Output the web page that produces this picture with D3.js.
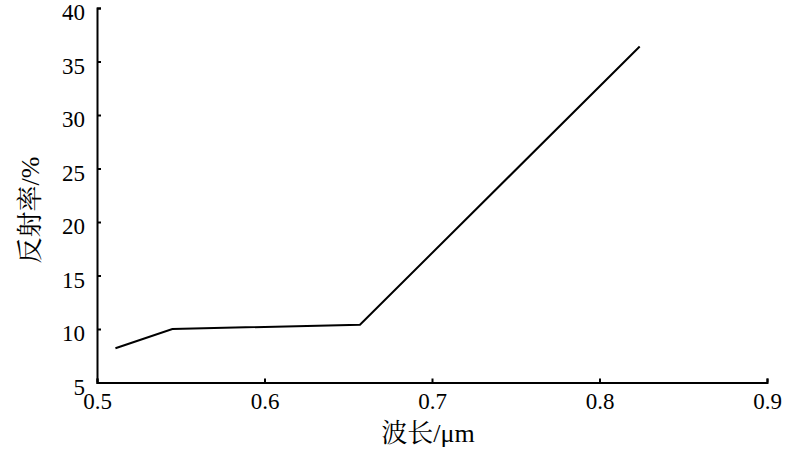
<!DOCTYPE html>
<html><head><meta charset="utf-8">
<script src="https://cdn.jsdelivr.net/npm/d3@7"></script>
</head><body style="margin:0">
<svg id="c" width="800" height="456"></svg>
<script>
const wavelength = [0.511, 0.545, 0.657, 0.824];
const reflectance = [8.2, 10.0, 10.4, 36.4];
const xTicks = [0.5, 0.6, 0.7, 0.8, 0.9];
const yTicks = [5, 10, 15, 20, 25, 30, 35, 40];
const xLabel = "波长/μm";
const yLabel = "反射率/%";

const FONT = `"Liberation Serif","Noto Serif CJK SC"`;
const svg = d3.select("#c");
const x = d3.scaleLinear().domain([0.5, 0.9]).range([97, 767]);
const y = d3.scaleLinear().domain([5, 40]).range([382.5, 8]);

const xAxis = svg.append("g").attr("transform", `translate(0,${y(5)})`)
  .call(d3.axisBottom(x).tickValues(xTicks).tickFormat(d3.format("")).tickSizeInner(-4).tickSizeOuter(-4).tickPadding(10));
const yAxis = svg.append("g").attr("transform", `translate(${x(0.5)},0)`)
  .call(d3.axisLeft(y).tickValues(yTicks).tickFormat(d3.format("")).tickSizeInner(-4).tickSizeOuter(-4).tickPadding(12));
[xAxis, yAxis].forEach(a => {
  a.selectAll("path,line").attr("stroke", "#000").attr("stroke-width", 2);
  a.selectAll("text").attr("fill", "#000").style("font-family", FONT).style("font-size", "23px");
});
xAxis.selectAll("text").attr("dy", "0.7em");
yAxis.selectAll("text").attr("dy", "0.5em");

const data = wavelength.map((w, i) => [w, reflectance[i]]);
svg.append("path").datum(data)
  .attr("fill", "none").attr("stroke", "#000").attr("stroke-width", 2)
  .attr("d", d3.line().x(d => x(d[0])).y(d => y(d[1])));

svg.append("text").attr("x", 428).attr("y", 442).attr("text-anchor", "middle")
  .style("font-family", FONT).style("font-size", "26px").text(xLabel);
svg.append("text").attr("transform", "translate(39,210) rotate(-90)").attr("text-anchor", "middle")
  .style("font-family", FONT).style("font-size", "26px").text(yLabel);
</script>
</body></html>
